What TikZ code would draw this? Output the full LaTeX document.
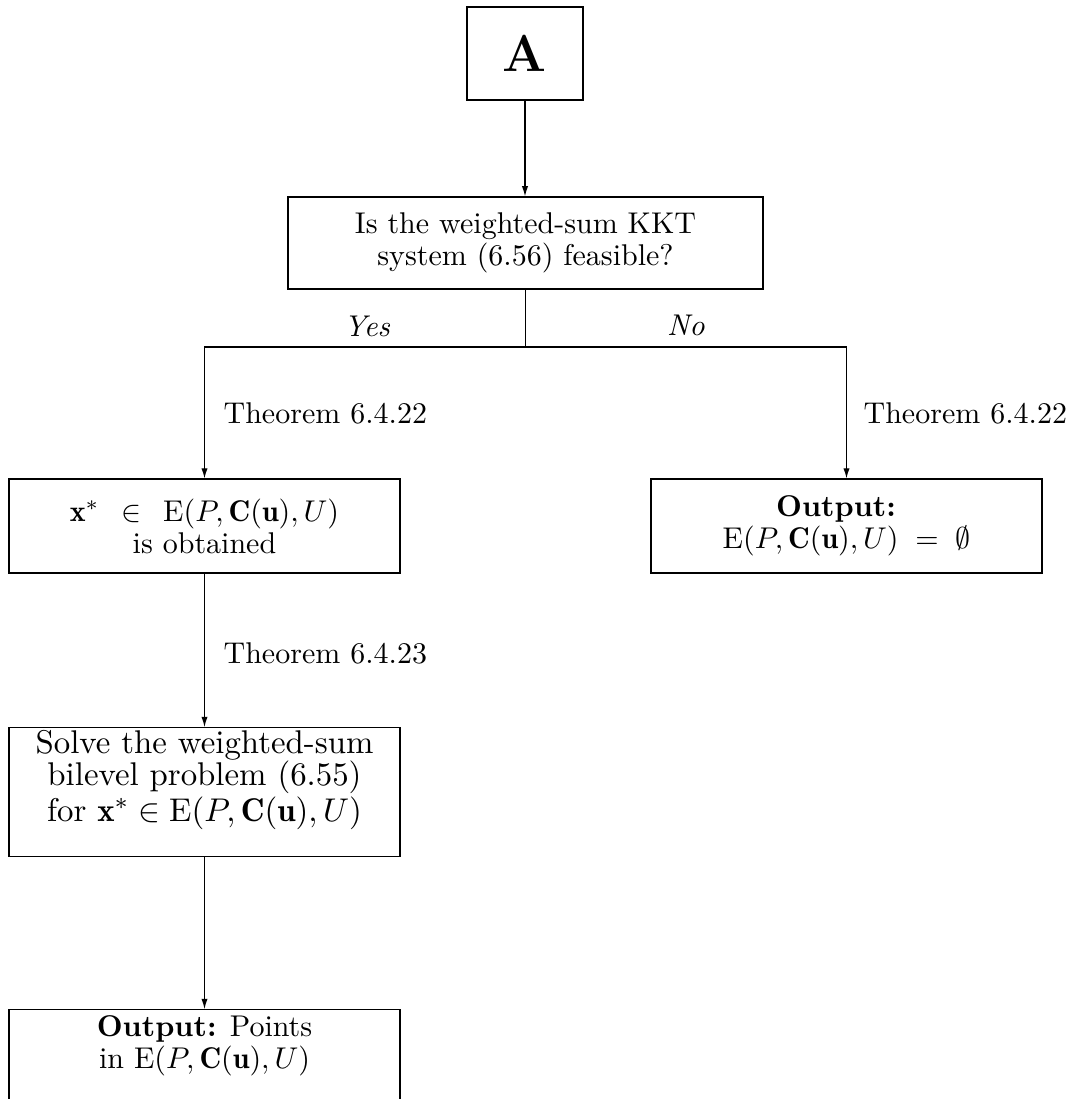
\documentclass[tikz,border=0pt]{standalone}
\usepackage{amsmath,amssymb}
\usepackage{fontspec}
\usetikzlibrary{arrows.meta}
\begin{document}
\begin{tikzpicture}[x=0.3333pt,y=-0.3333pt,
  box/.style={draw, line width=0.4pt, align=center, inner sep=0pt,
    font=\fontsize{10}{10.7}\selectfont},
  arr/.style={-{Latex[length=3.4pt,width=2.1pt]}, line width=0.4pt},
  conn/.style={line width=0.4pt},
  lbl/.style={inner sep=0pt, font=\fontsize{10}{12}\selectfont}]
\path[use as bounding box, clip] (0,0) rectangle (1074,1099);

\node[box, minimum width=38.67pt, minimum height=31pt,
  font=\fontsize{17.28}{20}\selectfont\bfseries] (A) at (525,53.5) {A};

\node[box, minimum width=158.3pt, minimum height=30.7pt] (q) at (525.5,243)
  {Is the weighted-sum KKT\\system (6.56) feasible?};

\node[box, minimum width=130.3pt, minimum height=31.3pt] (x) at (204.5,526)
  {$\mathbf{x}^*\hspace{4.5pt}\in\hspace{4.5pt}\mathrm{E}(P,\mathbf{C}(\mathbf{u}),U)$\\is obtained};

\node[box, minimum width=130.3pt, minimum height=31.3pt] (e) at (846.5,526)
  {\textbf{Output:}\hspace*{7pt}\\$\mathrm{E}(P,\mathbf{C}(\mathbf{u}),U)\;=\;\emptyset$};

\node[box, minimum width=130.3pt, anchor=north, inner xsep=0pt, inner ysep=1pt,
  text depth=10.6pt, font=\fontsize{10.95}{10.7}\selectfont] (s) at (204.5,727)
  {Solve the weighted-sum\\bilevel problem (6.55)\\for $\mathbf{x}^*\in\mathrm{E}(P,\mathbf{C}(\mathbf{u}),U)$};

\node[box, minimum width=130.3pt, anchor=north, inner ysep=2pt, text depth=14pt] (o) at (204.5,1009)
  {\textbf{Output:} Points\\in $\mathrm{E}(P,\mathbf{C}(\mathbf{u}),U)$};

\coordinate (jc) at (525.5,347);

\draw[arr] (A.south) -- (A.south |- q.north);
\draw[conn] (q.south) -- (jc);
\draw[arr] (jc) -| (x.north);
\draw[arr] (jc) -| (e.north);
\draw[arr] (x.south) -- (s.north);
\draw[arr] (s.south) -- (o.north);

\node[lbl, anchor=base] (yes) at (367,336) {\textit{Yes}};
\node[lbl, anchor=base] (no) at (686,335) {\textit{No}};
\node[lbl, anchor=base west] (t1) at (223,423) {Theorem 6.4.22};
\node[lbl, anchor=base west] (t2) at (863,423) {Theorem 6.4.22};
\node[lbl, anchor=base west] (t3) at (223,663) {Theorem 6.4.23};
\end{tikzpicture}
\end{document}
